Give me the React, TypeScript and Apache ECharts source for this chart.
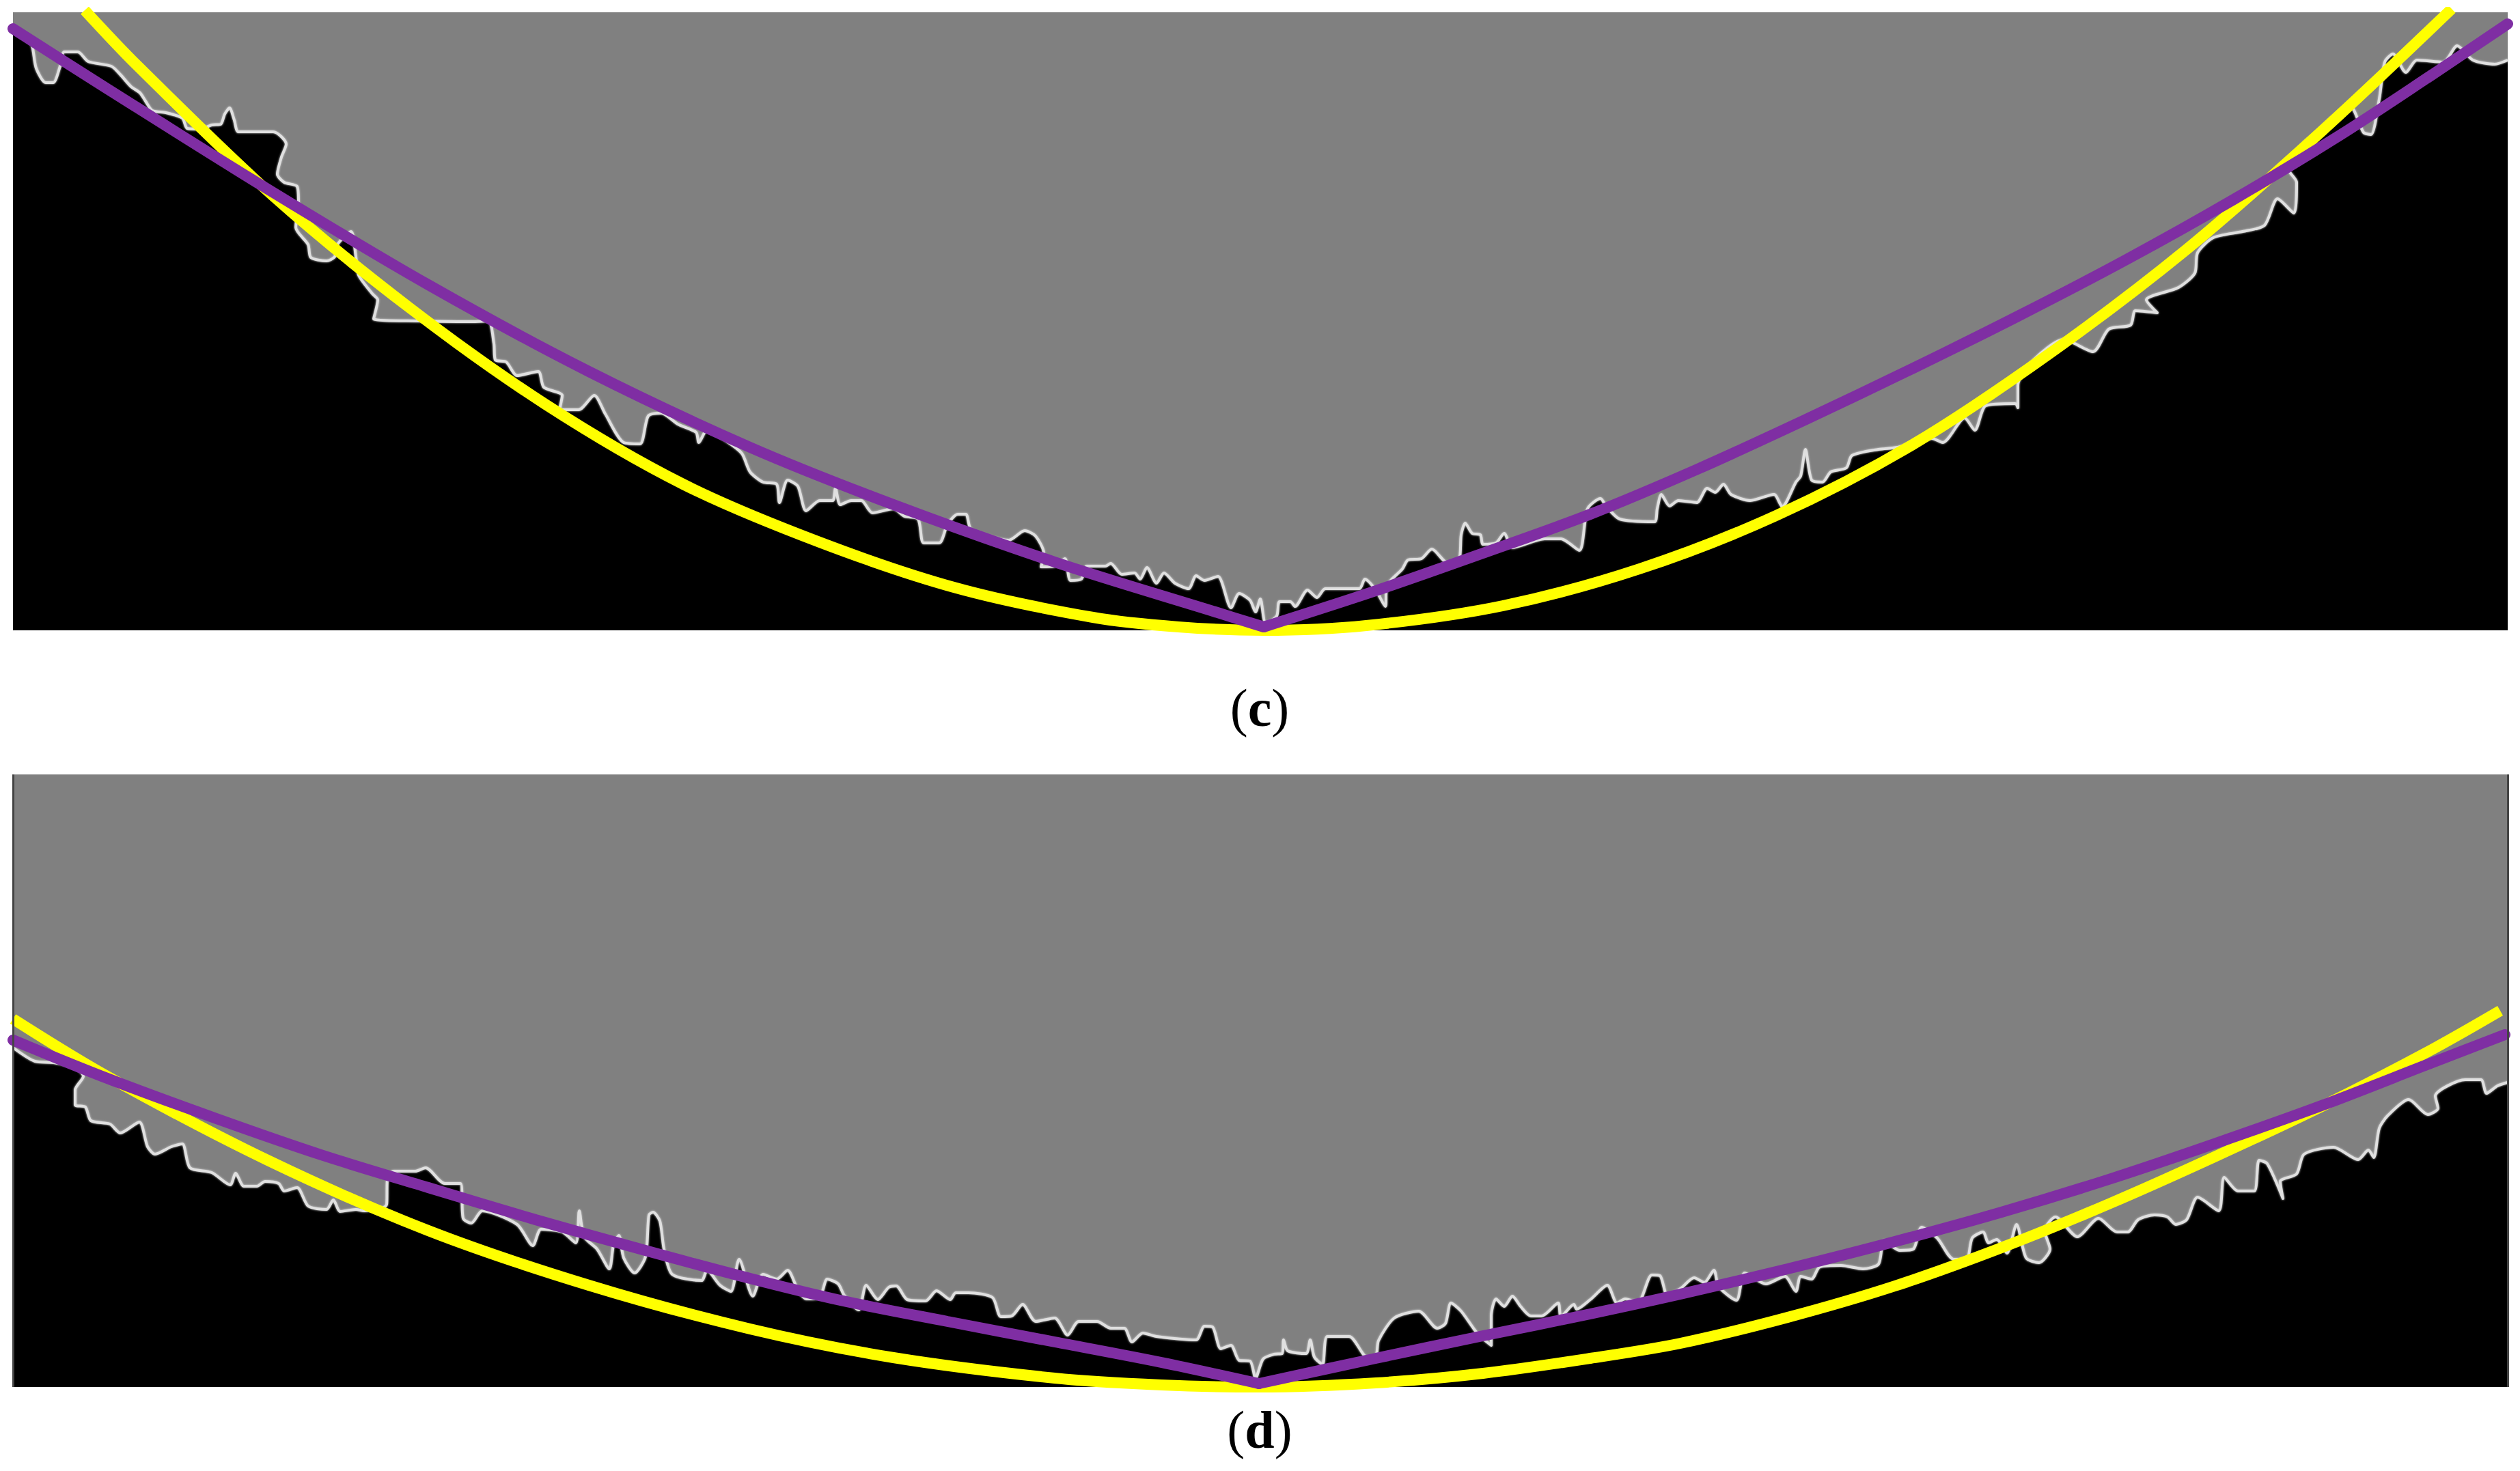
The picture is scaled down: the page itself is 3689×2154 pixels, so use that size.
import * as echarts from "echarts";
import { useEffect, useRef } from "react";

// x = distance along the section, y = height above the panel's lower edge
type Pt = [number, number];

const profileC: Pt[] = [
  [19, 880], [40, 865], [47, 856], [53, 823], [67, 802], [78, 802], [88, 826], [94, 847], [114, 847], [129, 833],
  [163, 826], [176, 814], [192, 796], [205, 787], [213, 775], [223, 761], [243, 758], [267, 750], [274, 735], [294, 734],
  [310, 740], [323, 741], [329, 756], [336, 765], [343, 747], [349, 730], [400, 730], [419, 712], [412, 693], [406, 668],
  [416, 656], [435, 650], [437, 626], [433, 590], [451, 565], [455, 546], [478, 541], [490, 547], [494, 565], [514, 584],
  [521, 547], [525, 520], [545, 493], [553, 484], [547, 456], [612, 453], [690, 452], [715, 453], [723, 420], [725, 396],
  [741, 393], [757, 373], [788, 379], [796, 356], [823, 344], [819, 323], [847, 323], [870, 344], [886, 317], [913, 275],
  [937, 273], [949, 314], [968, 318], [992, 302], [1019, 290], [1023, 275], [1035, 293], [1062, 278], [1086, 259], [1098, 232],
  [1117, 217], [1137, 214], [1141, 187], [1153, 220], [1168, 211], [1180, 175], [1200, 190], [1219, 190], [1223, 208],
  [1230, 184], [1246, 190], [1261, 190], [1277, 172], [1308, 178], [1324, 167], [1344, 163], [1352, 128], [1375, 128], [1387, 155],
  [1402, 170], [1414, 170], [1422, 147], [1477, 132], [1500, 146], [1516, 138], [1528, 113], [1524, 93], [1544, 94], [1559, 105],
  [1567, 73], [1583, 75], [1591, 94], [1618, 94], [1626, 98], [1642, 82], [1661, 84], [1669, 75], [1679, 92], [1693, 69],
  [1704, 84], [1720, 69], [1740, 61], [1751, 80], [1763, 73], [1783, 79], [1802, 33], [1814, 54], [1830, 44], [1838, 27],
  [1845, 46], [1853, 10], [1869, 21], [1873, 42], [1889, 42], [1896, 35], [1914, 59], [1928, 48], [1940, 61], [1990, 61],
  [1998, 75], [2014, 59], [2028, 35], [2030, 65], [2053, 90], [2061, 103], [2081, 105], [2096, 119], [2120, 98], [2136, 103],
  [2139, 140], [2145, 157], [2155, 142], [2167, 140], [2171, 126], [2190, 128], [2202, 142], [2214, 121], [2261, 134], [2285, 134],
  [2312, 117], [2324, 178], [2343, 193], [2351, 182], [2371, 163], [2422, 159], [2426, 178], [2432, 199], [2444, 182], [2457, 190],
  [2484, 187], [2499, 208], [2511, 202], [2523, 214], [2534, 199], [2562, 190], [2597, 199], [2609, 181], [2629, 217], [2636, 226],
  [2643, 265], [2652, 220], [2668, 217], [2680, 232], [2703, 238], [2711, 256], [2750, 265], [2778, 268], [2828, 281], [2844, 275],
  [2876, 311], [2891, 293], [2907, 329], [2950, 332], [2954, 326], [2954, 359], [2977, 396], [3021, 426], [3064, 408], [3087, 441],
  [3119, 447], [3126, 468], [3158, 465], [3142, 484], [3189, 502], [3213, 523], [3217, 553], [3240, 575], [3283, 584], [3315, 593],
  [3334, 632], [3358, 611], [3362, 656], [3350, 675], [3373, 714], [3385, 723], [3413, 750], [3440, 768], [3460, 729], [3471, 726],
  [3483, 778], [3491, 832], [3503, 844], [3522, 817], [3538, 835], [3577, 832], [3597, 856], [3620, 835], [3652, 829], [3671, 835],
];

const yellowC: Pt[] = [
  [124, 908], [200, 828], [400, 636], [600, 472], [800, 330], [1000, 214], [1200, 129], [1400, 62], [1600, 19], [1725, 5],
  [1850, 0], [2000, 7], [2200, 36], [2400, 90], [2600, 168], [2800, 272], [3000, 405], [3200, 557], [3400, 732], [3589, 910],
];

const purpleCLeft: Pt[] = [
  [19, 881], [157, 793], [392, 646], [627, 506], [862, 379], [1098, 268], [1308, 184], [1544, 100], [1779, 27], [1850, 5],
];

const purpleCRight: Pt[] = [
  [1850, 5], [2014, 58], [2171, 113], [2328, 170], [2485, 236], [2642, 308], [2799, 383], [2956, 461], [3113, 543], [3270, 631],
  [3427, 726], [3558, 812], [3671, 888],
];

const profileD: Pt[] = [
  [19, 497], [51, 477], [78, 475], [110, 468], [122, 455], [110, 435], [110, 413], [125, 410], [133, 390], [161, 385],
  [176, 372], [204, 388], [216, 352], [227, 341], [251, 352], [267, 356], [278, 321], [310, 314], [337, 296], [345, 313],
  [357, 294], [376, 294], [388, 301], [408, 298], [416, 287], [435, 292], [451, 265], [478, 260], [488, 274], [498, 257],
  [521, 260], [533, 258], [566, 267], [567, 303], [576, 316], [608, 316], [623, 321], [651, 298], [674, 298], [678, 247],
  [690, 240], [706, 258], [757, 238], [780, 207], [792, 231], [823, 227], [843, 211], [848, 258], [855, 220], [874, 202],
  [892, 173], [898, 207], [906, 222], [913, 189], [929, 167], [945, 191], [950, 252], [956, 256], [966, 243], [972, 202],
  [984, 165], [1027, 156], [1035, 171], [1054, 149], [1070, 140], [1082, 187], [1102, 133], [1117, 165], [1137, 158], [1153, 171],
  [1168, 142], [1180, 129], [1200, 131], [1211, 158], [1227, 151], [1236, 134], [1257, 113], [1268, 149], [1285, 128], [1301, 146],
  [1312, 148], [1328, 128], [1355, 126], [1371, 141], [1391, 128], [1399, 138], [1418, 138], [1453, 131], [1465, 103], [1481, 104],
  [1497, 121], [1516, 96], [1544, 101], [1563, 76], [1579, 96], [1606, 96], [1626, 86], [1646, 86], [1657, 66], [1673, 79],
  [1693, 74], [1751, 69], [1763, 89], [1775, 88], [1787, 56], [1802, 61], [1814, 39], [1830, 38], [1838, 13], [1849, 41],
  [1865, 48], [1877, 49], [1879, 69], [1885, 53], [1912, 49], [1918, 69], [1924, 44], [1936, 33], [1943, 74], [1975, 74],
  [2002, 43], [2014, 44], [2018, 68], [2041, 101], [2077, 111], [2104, 86], [2116, 93], [2124, 123], [2139, 111], [2163, 78],
  [2183, 61], [2183, 104], [2190, 129], [2202, 118], [2214, 133], [2226, 118], [2241, 104], [2257, 104], [2281, 123], [2285, 103],
  [2304, 121], [2308, 114], [2328, 128], [2353, 149], [2367, 123], [2379, 129], [2398, 124], [2418, 164], [2430, 163], [2441, 134],
  [2460, 144], [2480, 160], [2495, 153], [2509, 171], [2516, 147], [2542, 127], [2554, 167], [2585, 151], [2613, 162], [2629, 140],
  [2636, 162], [2652, 158], [2664, 176], [2695, 178], [2727, 173], [2750, 180], [2758, 214], [2781, 200], [2801, 202], [2813, 234],
  [2836, 218], [2860, 187], [2879, 187], [2887, 218], [2903, 227], [2911, 211], [2923, 216], [2938, 196], [2952, 238], [2966, 189],
  [2985, 182], [3001, 202], [2993, 229], [3009, 249], [3041, 220], [3072, 247], [3099, 227], [3115, 227], [3130, 245], [3154, 252],
  [3173, 249], [3185, 238], [3201, 245], [3217, 278], [3248, 258], [3256, 307], [3276, 287], [3300, 287], [3307, 332], [3319, 327],
  [3342, 276], [3338, 301], [3362, 312], [3373, 341], [3416, 351], [3452, 333], [3467, 347], [3475, 336], [3483, 379], [3495, 397],
  [3526, 421], [3554, 399], [3569, 408], [3565, 426], [3609, 450], [3632, 450], [3640, 430], [3656, 441], [3671, 446],
];

const yellowD: Pt[] = [
  [19, 539], [157, 455], [392, 332], [627, 229], [862, 149], [1098, 85], [1308, 43], [1544, 13], [1700, 3], [1843, 0],
  [2014, 6], [2171, 20], [2328, 42], [2460, 64], [2617, 102], [2774, 148], [2930, 204], [3087, 268], [3244, 338], [3401, 412],
  [3558, 493], [3660, 551],
];

const purpleDLeft: Pt[] = [
  [19, 508], [157, 452], [314, 394], [470, 340], [627, 292], [784, 245], [941, 201], [1098, 159], [1230, 127], [1387, 96],
  [1544, 66], [1700, 36], [1843, 5],
];

const purpleDRight: Pt[] = [
  [1843, 5], [2014, 42], [2171, 75], [2328, 107], [2460, 136], [2617, 173], [2774, 213], [2930, 256], [3087, 304], [3244, 357],
  [3401, 413], [3558, 474], [3667, 516],
];

const panelLabels = ["c", "d"];
// thin dark frame lines on the two sides of panel d
const edgesD = [19, 3671];

const GRAY = "#808080";
const YELLOW = "#ffff00";
const PURPLE = "#7f2ea3";
const CURVE_WIDTH = 16;

function panelSeries(
  idx: number,
  profile: Pt[],
  yellow: Pt[],
  purpleLeft: Pt[],
  purpleRight: Pt[],
  edges: number[] = [],
) {
  const base = {
    type: "line" as const,
    xAxisIndex: idx,
    yAxisIndex: idx,
    showSymbol: false,
    symbol: "none",
    silent: true,
  };
  const label = panelLabels[idx];
  return [
    {
      ...base,
      name: `profile ${label}`,
      data: profile,
      smooth: 0.25,
      lineStyle: { color: "#e0e0e0", width: 4, join: "round", shadowBlur: 3, shadowColor: "#cccccc" },
      areaStyle: { color: GRAY, opacity: 1, origin: "end" },
      markLine: {
        silent: true,
        symbol: "none",
        label: { show: false },
        lineStyle: { color: "#444", width: 3, type: "solid" },
        data: edges.map((x) => ({ xAxis: x })),
      },
      z: 2,
    },
    {
      ...base,
      name: `parabola ${label}`,
      data: yellow,
      smooth: 0.33,
      lineStyle: { color: YELLOW, width: CURVE_WIDTH },
      z: 3,
    },
    {
      ...base,
      name: `fit ${label} left`,
      data: purpleLeft,
      smooth: 0.33,
      lineStyle: { color: PURPLE, width: CURVE_WIDTH, cap: "round" },
      z: 4,
    },
    {
      ...base,
      name: `fit ${label} right`,
      data: purpleRight,
      smooth: 0.33,
      lineStyle: { color: PURPLE, width: CURVE_WIDTH, cap: "round" },
      z: 4,
    },
  ];
}

function panelTitle(label: string, top: number) {
  return {
    text: `{p|(}{b|${label}}{p|)}`,
    left: 1844,
    top,
    textAlign: "center" as const,
    padding: 0,
    textStyle: {
      rich: {
        p: { fontFamily: "Liberation Serif", fontSize: 78, fontWeight: "normal", color: "#000" },
        b: { fontFamily: "Liberation Serif", fontSize: 78, fontWeight: "bold", color: "#000" },
      },
    },
  };
}

export default function App() {
  const chartRef = useRef<HTMLDivElement | null>(null);

  useEffect(() => {
    const el = chartRef.current;
    if (!el) return;
    const chart = echarts.init(el, undefined, { renderer: "svg" });

    const xAxis = { type: "value" as const, min: 19, max: 3671, show: false };

    chart.setOption({
      animation: false,
      backgroundColor: "#fff",
      title: [panelTitle(panelLabels[0], 997), panelTitle(panelLabels[1], 2054)],
      grid: [
        { left: 19, top: 18, width: 3652, height: 905, show: true, backgroundColor: "#000", borderWidth: 0 },
        { left: 19, top: 1134, width: 3652, height: 897, show: true, backgroundColor: "#000", borderWidth: 0 },
      ],
      xAxis: [
        { ...xAxis, gridIndex: 0 },
        { ...xAxis, gridIndex: 1 },
      ],
      yAxis: [
        { type: "value", min: 0, max: 905, show: false, gridIndex: 0 },
        { type: "value", min: 0, max: 897, show: false, gridIndex: 1 },
      ],
      series: [
        ...panelSeries(0, profileC, yellowC, purpleCLeft, purpleCRight),
        ...panelSeries(1, profileD, yellowD, purpleDLeft, purpleDRight, edgesD),
      ],
    });

    return () => {
      chart.dispose();
    };
  }, []);

  return (
    <div
      ref={chartRef}
      style={{ position: "absolute", left: 0, top: 0, width: 3689, height: 2154 }}
    />
  );
}
